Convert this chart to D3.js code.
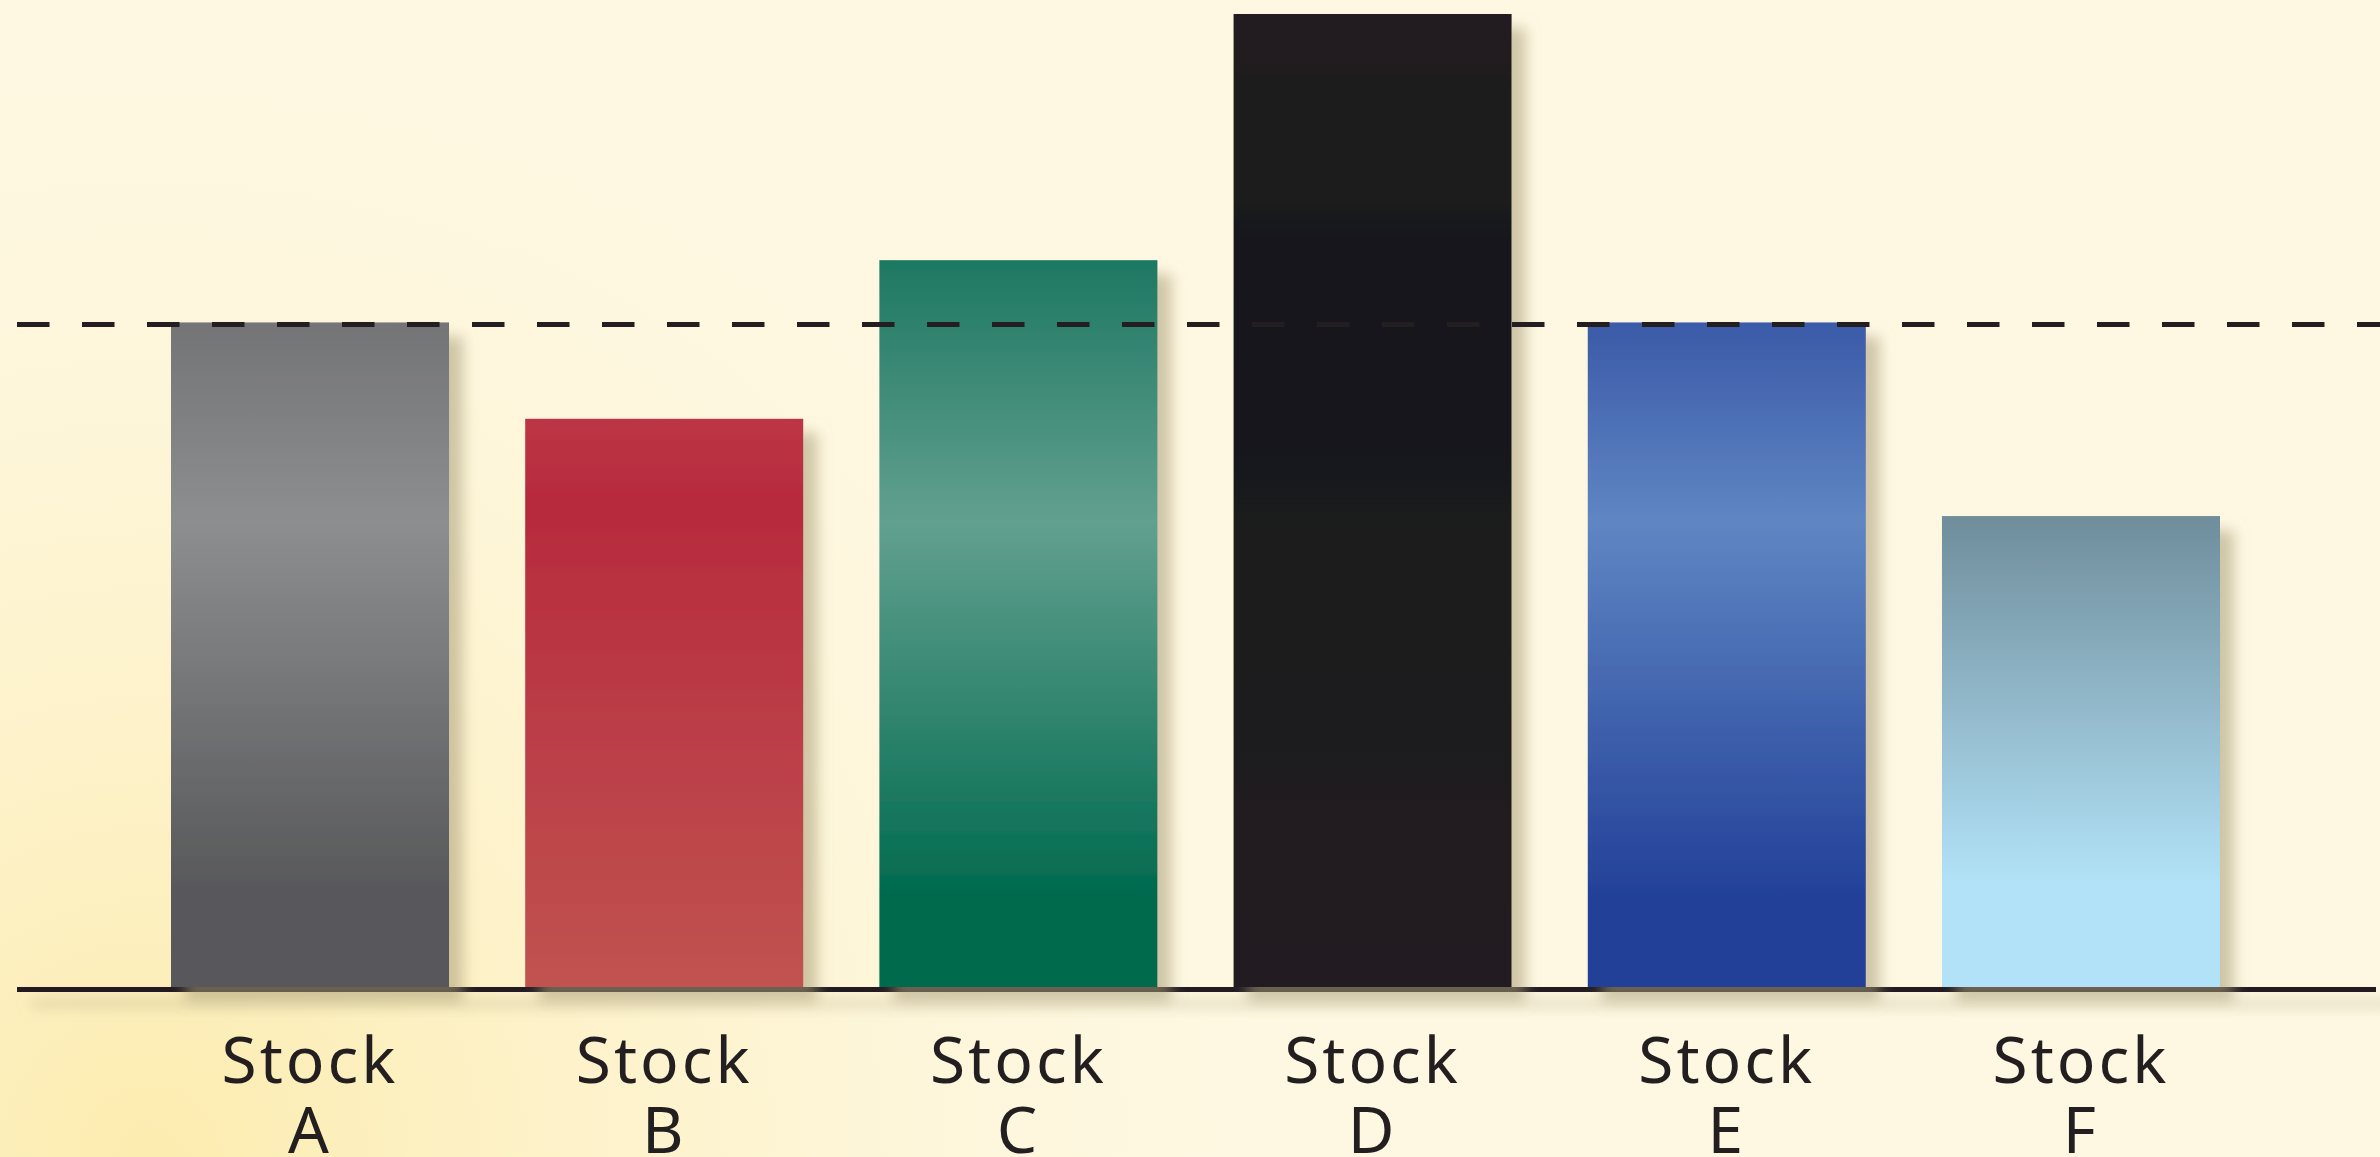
<!DOCTYPE html>
<html>
<head>
<meta charset="utf-8">
<script src="https://cdn.jsdelivr.net/npm/d3@7"></script>
<style>
  html, body { margin: 0; padding: 0; background: #fef8e2; overflow: hidden; }
  .label { font-family: "Noto Sans", sans-serif; font-size: 64px; fill: #231f20; letter-spacing: 3px; }
</style>
</head>
<body>
<div id="barChart"></div>
<script>
// chart data
var stocks = ["A", "B", "C", "D", "E", "F"];
var values = [68.3, 58.4, 74.7, 100, 68.3, 48.4];
var benchmark = 68.1;

// gradient stops per bar (offset, colour)
var gradients = [
  [[0, "#737476"], [0.30, "#8d8e90"], [0.85, "#58595b"], [1, "#58595b"]],
  [[0, "#bc3646"], [0.15, "#b72a3d"], [1, "#c05350"]],
  [[0, "#1d7862"], [0.36, "#62a08f"], [0.88, "#006a4e"], [1, "#006a4e"]],
  [[0, "#221f20"], [0.31, "#15171c"], [0.65, "#1d1c1f"], [1, "#231f20"]],
  [[0, "#3b5aa8"], [0.30, "#5f86c3"], [0.88, "#213f97"], [1, "#213f97"]],
  [[0, "#6f8d9b"], [0.78, "#b2e2f7"], [1, "#b2e2f7"]]
];

var width = 2380;
var height = 1157;

var svg = d3.select("#barChart")
  .append("svg")
  .attr("width", width)
  .attr("height", height);

var defs = svg.append("defs");

// faint yellow swirl in the lower left
var bg = defs.append("radialGradient")
  .attr("id", "bgGlow")
  .attr("gradientUnits", "userSpaceOnUse")
  .attr("cx", 150).attr("cy", 1157).attr("r", 1200);
bg.append("stop").attr("offset", 0).attr("stop-color", "#fce9a2").attr("stop-opacity", 0.8);
bg.append("stop").attr("offset", 0.5).attr("stop-color", "#fdf0c2").attr("stop-opacity", 0.5);
bg.append("stop").attr("offset", 1).attr("stop-color", "#fef8e2").attr("stop-opacity", 0);

var shadow = defs.append("filter")
  .attr("id", "shadow")
  .attr("filterUnits", "userSpaceOnUse")
  .attr("x", 0).attr("y", 0)
  .attr("width", width).attr("height", height);
shadow.append("feDropShadow")
  .attr("dx", 14).attr("dy", 14)
  .attr("stdDeviation", 7)
  .attr("flood-color", "#a89d78")
  .attr("flood-opacity", 0.55);

gradients.forEach(function(stops, i) {
  var lg = defs.append("linearGradient")
    .attr("id", "grad" + i)
    .attr("x1", 0).attr("y1", 0).attr("x2", 0).attr("y2", 1);
  stops.forEach(function(s) {
    lg.append("stop").attr("offset", s[0]).attr("stop-color", s[1]);
  });
});

svg.append("rect")
  .attr("width", width)
  .attr("height", height)
  .attr("fill", "#fef8e2");

svg.append("rect")
  .attr("width", width)
  .attr("height", height)
  .attr("fill", "url(#bgGlow)");

var xScale = d3.scaleBand()
  .domain(stocks)
  .range([171, 2220])
  .paddingInner(0.215)
  .paddingOuter(0);

var yScale = d3.scaleLinear()
  .domain([0, 100])
  .range([987, 14]);

var data = stocks.map(function(s, i) { return { id: s, value: values[i], idx: i }; });

// baseline
svg.append("rect")
  .attr("x", 17)
  .attr("y", yScale(0))
  .attr("width", 2359)
  .attr("height", 5)
  .attr("fill", "#231f20")
  .attr("filter", "url(#shadow)");

svg.selectAll(".bar")
  .data(data)
  .enter().append("rect")
  .attr("class", "bar")
  .attr("x", function(d) { return xScale(d.id); })
  .attr("y", function(d) { return yScale(d.value); })
  .attr("width", xScale.bandwidth())
  .attr("height", function(d) { return yScale(0) - yScale(d.value); })
  .attr("fill", function(d) { return "url(#grad" + d.idx + ")"; })
  .attr("filter", "url(#shadow)");

// dashed benchmark
svg.append("line")
  .attr("x1", 17).attr("x2", width)
  .attr("y1", yScale(benchmark)).attr("y2", yScale(benchmark))
  .attr("stroke", "#231f20")
  .attr("stroke-width", 5)
  .attr("stroke-dasharray", "32.5 32.5");

var labels = svg.selectAll(".label")
  .data(data)
  .enter().append("text")
  .attr("class", "label")
  .attr("text-anchor", "middle");

labels.append("tspan")
  .attr("x", function(d) { return xScale(d.id) + xScale.bandwidth() / 2; })
  .attr("y", 1083)
  .text("Stock");

labels.append("tspan")
  .attr("x", function(d) { return xScale(d.id) + xScale.bandwidth() / 2; })
  .attr("y", 1153)
  .text(function(d) { return d.id; });
</script>
</body>
</html>
